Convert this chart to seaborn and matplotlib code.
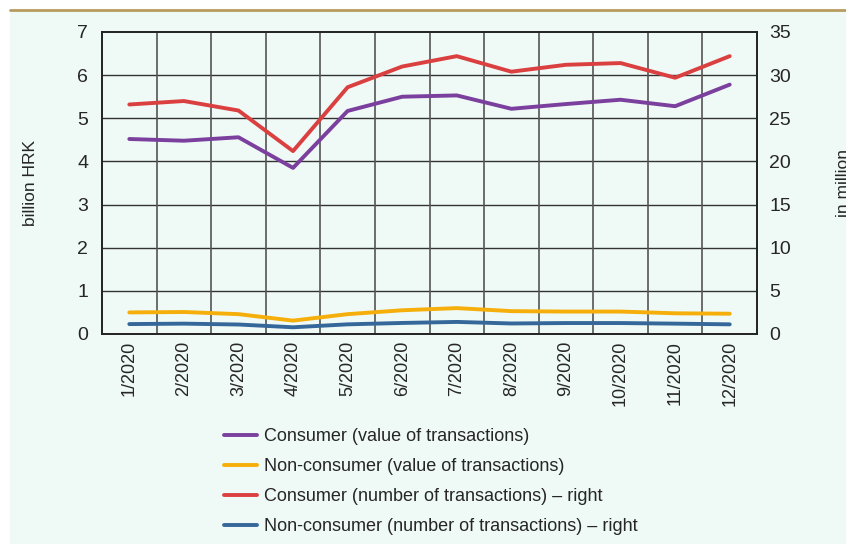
import matplotlib
matplotlib.use("Agg")
import matplotlib.pyplot as plt
import matplotlib.patches as mpatches
import numpy as np
import pandas as pd
import seaborn as sns

months = ["1/2020", "2/2020", "3/2020", "4/2020", "5/2020", "6/2020",
          "7/2020", "8/2020", "9/2020", "10/2020", "11/2020", "12/2020"]
consumer_value = [4.52, 4.48, 4.56, 3.85, 5.17, 5.50, 5.53, 5.22, 5.33, 5.43, 5.28, 5.78]
nonconsumer_value = [0.50, 0.51, 0.46, 0.31, 0.46, 0.55, 0.60, 0.53, 0.52, 0.52, 0.48, 0.47]
consumer_number = [26.6, 27.0, 25.9, 21.2, 28.6, 31.0, 32.2, 30.4, 31.2, 31.4, 29.7, 32.2]
nonconsumer_number = [1.15, 1.20, 1.10, 0.78, 1.12, 1.28, 1.40, 1.22, 1.27, 1.27, 1.20, 1.12]

labels = ["Consumer (value of transactions)",
          "Non-consumer (value of transactions)",
          "Consumer (number of transactions) \u2013 right",
          "Non-consumer (number of transactions) \u2013 right"]
colors = ["#7B3F9E", "#F5AE0A", "#DB4040", "#36679A"]

sns.set_style("white")
plt.rcParams['font.family'] = ['Liberation Sans', 'DejaVu Sans']

bg = "#EFF9F6"
fig = plt.figure(figsize=(8.46, 5.44), dpi=100)
fig.patch.set_facecolor("white")
fig.patches.append(mpatches.Rectangle((10 / 846, 0), 1, 1 - 10 / 544, transform=fig.transFigure,
                                      facecolor=bg, edgecolor="none", zorder=-10))
fig.add_artist(plt.Line2D([10 / 846, 1], [1 - 10 / 544, 1 - 10 / 544], color="#B89B5E", lw=2))

ax = fig.add_axes([102 / 846, 1 - 334 / 544, 655 / 846, 302 / 544])
ax.set_facecolor(bg)
ax2 = ax.twinx()

x = np.arange(len(months))
df_left = pd.DataFrame({"x": x, "cv": consumer_value, "nv": nonconsumer_value})
df_right = pd.DataFrame({"x": x, "cn": consumer_number, "nn": nonconsumer_number})

sns.lineplot(data=df_left, x="x", y="cv", ax=ax, color=colors[0], lw=2.8, legend=False)
sns.lineplot(data=df_left, x="x", y="nv", ax=ax, color=colors[1], lw=2.8, legend=False)
sns.lineplot(data=df_right, x="x", y="cn", ax=ax2, color=colors[2], lw=2.8, legend=False)
sns.lineplot(data=df_right, x="x", y="nn", ax=ax2, color=colors[3], lw=2.8, legend=False)

ax.set_xlim(-0.5, len(months) - 0.5)
ax.set_ylim(0, 7)
ax2.set_ylim(0, 35)
ax.set_yticks(range(0, 8))
ax2.set_yticks(range(0, 36, 5))
ax.set_xticks(x)
ax.set_xticklabels(months, rotation=90, fontsize=13)
ax.tick_params(axis="y", labelsize=14, length=0, pad=10)
ax2.tick_params(axis="y", labelsize=14, length=0, pad=9)
ax.tick_params(axis="x", length=0, pad=5)
ax.set_xlabel("")
ax.set_ylabel("")
ax2.set_ylabel("")

for yv in range(1, 7):
    ax.axhline(yv, color="#333333", lw=1, zorder=0)
for xv in np.arange(0.5, len(months) - 1, 1):
    ax.axvline(xv, color="#555555", lw=1.2, zorder=0)

for a in (ax, ax2):
    for s in a.spines.values():
        s.set_color("#222222")
        s.set_linewidth(1.2)

fig.text(30 / 846, 1 - 183 / 544, "billion HRK", rotation=90, ha="center", va="center", fontsize=12.5)
fig.text(836 / 846, 1 - 183 / 544, "in million", rotation=90, ha="left", va="center", fontsize=12.5)

handles = [plt.Line2D([], [], color=c, lw=2.8) for c in colors]
fig.legend(handles, labels, loc="upper left", bbox_to_anchor=(224 / 846, 1 - 428 / 544),
           frameon=False, fontsize=13, handlelength=1.8, handletextpad=0.4, labelspacing=0.72,
           borderaxespad=0, borderpad=0)

fig.savefig("out.png", dpi=100, facecolor=fig.get_facecolor())
